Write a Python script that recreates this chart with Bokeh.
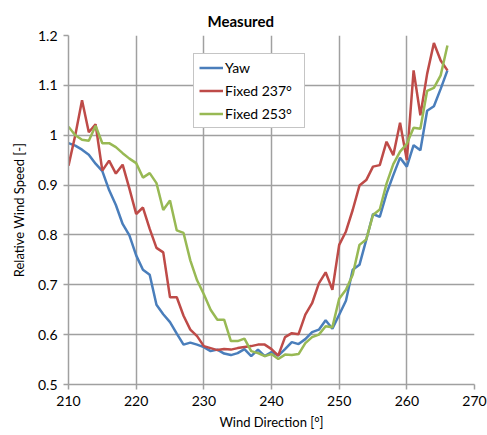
from bokeh.plotting import figure
from bokeh.models import Range1d, FixedTicker, CustomJSTickFormatter, Legend, LegendItem
from bokeh.embed import file_html
from bokeh.resources import INLINE

wind_dir = list(range(210, 267))

yaw = [0.984, 0.979, 0.971, 0.961, 0.943, 0.928, 0.890, 0.860, 0.822, 0.799,
       0.759, 0.730, 0.720, 0.660, 0.641, 0.625, 0.602, 0.580, 0.584, 0.580,
       0.575, 0.567, 0.570, 0.562, 0.559, 0.563, 0.571, 0.557, 0.570, 0.557,
       0.565, 0.558, 0.571, 0.585, 0.581, 0.591, 0.605, 0.610, 0.629, 0.612,
       0.640, 0.668, 0.730, 0.740, 0.790, 0.842, 0.836, 0.883, 0.920, 0.955,
       0.937, 0.980, 0.970, 1.049, 1.058, 1.093, 1.130]

fixed_237 = [0.939, 1.000, 1.070, 1.006, 1.022, 0.929, 0.949, 0.923, 0.941, 0.893,
             0.842, 0.855, 0.812, 0.774, 0.765, 0.675, 0.675, 0.638, 0.610, 0.597,
             0.577, 0.573, 0.569, 0.571, 0.570, 0.573, 0.575, 0.577, 0.580, 0.580,
             0.571, 0.558, 0.595, 0.603, 0.601, 0.640, 0.663, 0.703, 0.725, 0.690,
             0.780, 0.807, 0.850, 0.899, 0.910, 0.937, 0.940, 0.987, 0.960, 1.025,
             0.950, 1.130, 1.040, 1.123, 1.185, 1.150, 1.130]

fixed_253 = [1.017, 1.000, 0.991, 0.989, 1.019, 0.984, 0.984, 0.976, 0.964, 0.953,
             0.944, 0.915, 0.924, 0.904, 0.850, 0.869, 0.809, 0.804, 0.749, 0.709,
             0.681, 0.650, 0.630, 0.630, 0.587, 0.587, 0.592, 0.567, 0.563, 0.557,
             0.561, 0.551, 0.560, 0.559, 0.561, 0.583, 0.595, 0.600, 0.617, 0.615,
             0.672, 0.690, 0.720, 0.780, 0.791, 0.840, 0.851, 0.903, 0.942, 0.967,
             0.983, 1.015, 1.013, 1.089, 1.095, 1.120, 1.180]

series_names = ["Yaw", "Fixed 237°", "Fixed 253°"]
colors = ["#4A7EBB", "#BE4B48", "#98B954"]
x_ticks = [210, 220, 230, 240, 250, 260, 270]
y_ticks = [0.5, 0.6, 0.7, 0.8, 0.9, 1.0, 1.1, 1.2]

FONT = "Lato"
GRID = "#a0a0a0"

p = figure(width=487, height=435, output_backend="svg", toolbar_location=None,
           x_range=Range1d(210, 270), y_range=Range1d(0.5, 1.2),
           title="Measured",
           min_border_left=68, min_border_right=13, min_border_top=35, min_border_bottom=51)

p.title.align = "left"
p.title.offset = 139
p.title.text_font = FONT
p.title.text_font_size = "15px"
p.title.text_font_style = "bold"
p.title.text_color = "#000000"
p.title.standoff = 12

p.outline_line_color = None
p.background_fill_color = "white"
p.border_fill_color = "white"

p.xaxis.ticker = FixedTicker(ticks=x_ticks)
p.yaxis.ticker = FixedTicker(ticks=y_ticks)
p.yaxis.formatter = CustomJSTickFormatter(code="return tick.toFixed(1).replace(/\\.0$/, '');")

for ax in (p.xaxis[0], p.yaxis[0]):
    ax.axis_line_color = GRID
    ax.axis_line_width = 1.5
    ax.major_tick_line_color = GRID
    ax.major_tick_line_width = 1.5
    ax.major_tick_in = 0
    ax.major_tick_out = 5
    ax.minor_tick_line_color = None
    ax.major_label_text_font = FONT
    ax.major_label_text_font_size = "14px"
    ax.major_label_text_color = "#000000"
    ax.axis_label_text_font = FONT
    ax.axis_label_text_font_size = "13px"
    ax.axis_label_text_font_style = "normal"
    ax.axis_label_text_color = "#000000"

p.xaxis.axis_label = "Wind Direction [°]"
p.yaxis.axis_label = "Relative Wind Speed [-]"
p.xaxis.major_label_standoff = 6
p.yaxis.major_label_standoff = 6
p.xaxis.axis_label_standoff = 5
p.yaxis.axis_label_standoff = 8

p.grid.grid_line_color = GRID
p.grid.grid_line_width = 1.5
p.xgrid.ticker = FixedTicker(ticks=x_ticks)
p.ygrid.ticker = FixedTicker(ticks=y_ticks)

items = []
for name, ys, c in zip(series_names, [yaw, fixed_237, fixed_253], colors):
    r = p.line(wind_dir, ys, line_color=c, line_width=2.5)
    items.append(LegendItem(label=name, renderers=[r]))

legend = Legend(items=items, location=(125, 256),
                label_text_font=FONT, label_text_font_size="14px",
                label_text_color="#000000",
                border_line_color="#8c8c8c", border_line_width=1.5,
                background_fill_alpha=1.0, glyph_width=24,
                label_height=17, glyph_height=17, label_width=74,
                label_standoff=2, spacing=6, padding=5, margin=0)
p.add_layout(legend, "center")

open("out.html", "w").write(file_html(p, INLINE))
